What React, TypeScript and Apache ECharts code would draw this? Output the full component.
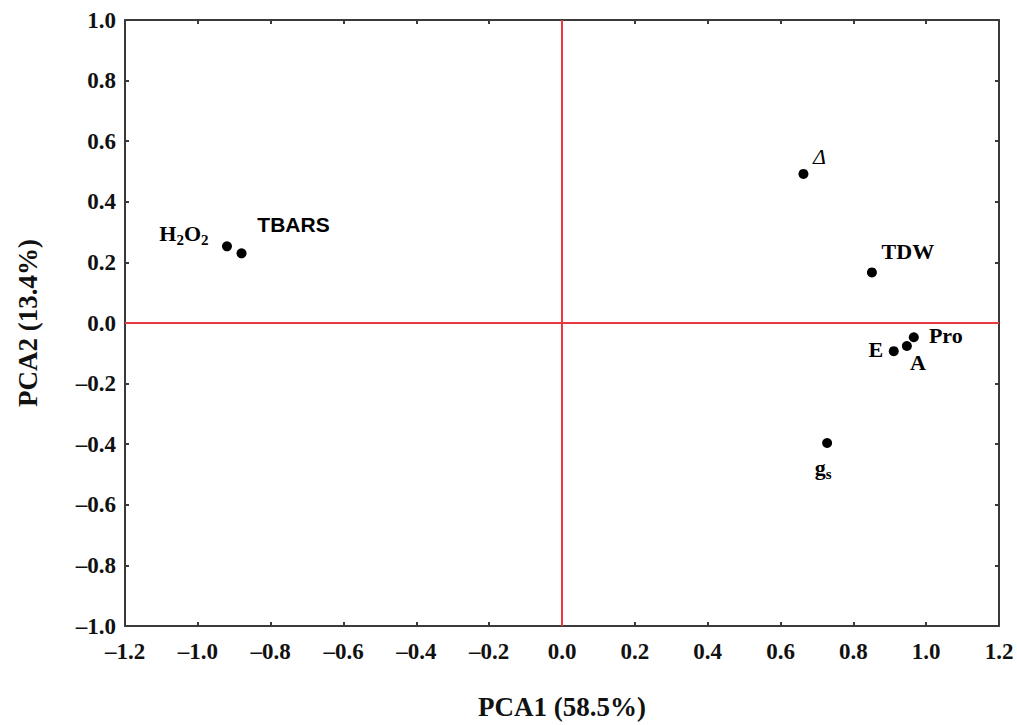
import React, { useEffect, useRef } from "react";
import * as echarts from "echarts";

const names = ["H2O2", "TBARS", "Δ", "TDW", "Pro", "A", "E", "gs"];
const pc1 = [-0.92, -0.88, 0.663, 0.851, 0.966, 0.947, 0.911, 0.728];
const pc2 = [0.253, 0.23, 0.492, 0.167, -0.047, -0.076, -0.093, -0.396];
const labelTexts = ["{n|H}{s|2}{n|O}{s|2}", "{b|TBARS}", "{i|Δ}", "{n|TDW}", "{n|Pro}", "{n|A}", "{n|E}", "{n|g}{s|s}"];
const labelOffsets = [[-43, -13], [52, -29], [16, -17], [36, -21], [32, -2], [11, 16], [-18, -2], [-4, 25]];

const xTitle = "PCA1 (58.5%)";
const yTitle = "PCA2 (13.4%)";

const SERIF = "'Liberation Serif', 'Times New Roman', serif";
const SANS = "'Liberation Sans', Arial, sans-serif";

const fmt = (v: number) => (v < 0 ? "–" + Math.abs(v).toFixed(1) : v.toFixed(1));

export default function App() {
  const ref = useRef<HTMLDivElement>(null);
  useEffect(() => {
    if (!ref.current) return;
    const chart = echarts.init(ref.current, undefined, { renderer: "svg" });
    const axisLine = { show: true, onZero: false, lineStyle: { color: "#3a3a3a", width: 2 } };
    const tick = { show: true, inside: true, length: 4, lineStyle: { color: "#3a3a3a", width: 2 } };
    const tickLabel = { fontFamily: SERIF, fontWeight: "bold" as const, fontSize: 23, color: "#111" };
    const rich = {
      n: { fontFamily: SERIF, fontWeight: "bold", fontSize: 22, color: "#000" },
      s: { fontFamily: SERIF, fontWeight: "bold", fontSize: 15, color: "#000", padding: [13, 0, 0, 0] },
      b: { fontFamily: SANS, fontWeight: "bold", fontSize: 21, color: "#000" },
      i: { fontFamily: SERIF, fontStyle: "italic", fontSize: 22, color: "#000" },
    };
    const data = names.map((nm, i) => ({
      name: nm,
      value: [pc1[i], pc2[i]],
      label: {
        show: true,
        position: "inside",
        offset: labelOffsets[i],
        formatter: labelTexts[i],
        color: "#000",
        rich,
        align: "center",
        verticalAlign: "middle",
      },
    }));
    chart.setOption({
      animation: false,
      backgroundColor: "#ffffff",
      grid: { left: 125, right: 18, top: 20, bottom: 97 },
      xAxis: [
        {
          type: "value", min: -1.2, max: 1.2, interval: 0.2, position: "bottom",
          axisLine, axisTick: tick, splitLine: { show: false },
          axisLabel: { ...tickLabel, margin: 14, formatter: fmt },
          name: xTitle, nameLocation: "middle", nameGap: 67,
          nameTextStyle: { fontFamily: SERIF, fontWeight: "bold", fontSize: 27, color: "#111" },
        },
        {
          type: "value", min: -1.2, max: 1.2, interval: 0.2, position: "top",
          axisLine, axisTick: tick, splitLine: { show: false }, axisLabel: { show: false },
        },
      ],
      yAxis: [
        {
          type: "value", min: -1, max: 1, interval: 0.2, position: "left",
          axisLine, axisTick: tick, splitLine: { show: false },
          axisLabel: { ...tickLabel, margin: 9, formatter: fmt },
          name: yTitle, nameLocation: "middle", nameGap: 84,
          nameTextStyle: { fontFamily: SERIF, fontWeight: "bold", fontSize: 27, color: "#111" },
        },
        {
          type: "value", min: -1, max: 1, interval: 0.2, position: "right",
          axisLine, axisTick: tick, splitLine: { show: false }, axisLabel: { show: false },
        },
      ],
      series: [
        {
          type: "scatter",
          xAxisIndex: 0,
          yAxisIndex: 0,
          symbol: "circle",
          symbolSize: 10,
          itemStyle: { color: "#000", opacity: 1 },
          data,
          markLine: {
            silent: true,
            symbol: ["none", "none"],
            label: { show: false },
            lineStyle: { color: "#e8383d", width: 2, type: "solid", opacity: 1 },
            data: [{ xAxis: 0 }, { yAxis: 0 }],
          },
          z: 3,
        },
      ],
    });
    return () => chart.dispose();
  }, []);
  return (
    <div
      ref={ref}
      style={{ position: "absolute", left: 0, top: 0, width: 1017, height: 725, background: "#fff" }}
    />
  );
}
